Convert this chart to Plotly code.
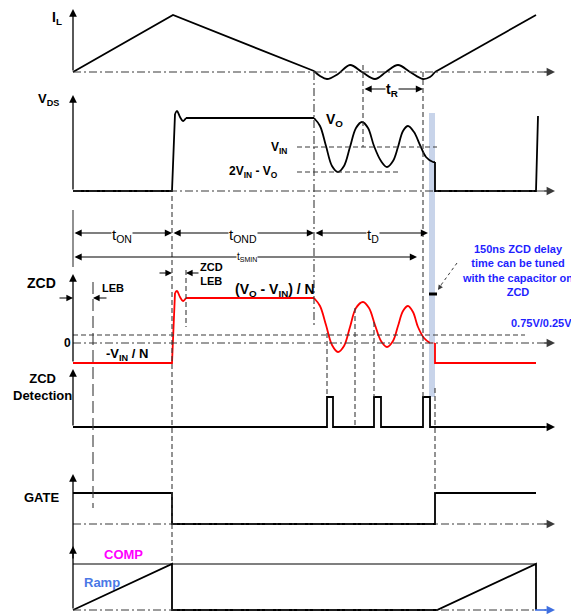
import plotly.graph_objects as go

# ---------------- waveform data (diagram coordinates) -------------
# Inductor current I_L
il_ramp_x = [73, 173, 314]
il_ramp_y = [72, 15, 71]
il_ring_x = [314, 320, 327, 338, 350, 362, 375, 386, 398, 410, 423, 430, 435]
il_ring_y = [71, 76, 79, 74, 65, 72, 79, 72, 65, 72, 79, 77, 72]
il_rise_x = [435, 536]
il_rise_y = [72, 15]

# Drain-source voltage V_DS
vds_on_x = [73, 172, 175]
vds_on_y = [191, 191, 114]
vds_ovs_x = [175, 177, 180, 183, 186]
vds_ovs_y = [114, 111, 117, 121, 118]
vds_flat_x = [186, 314]
vds_flat_y = [118, 118]
vds_ring_x = [314, 320, 326, 332, 338, 344, 350, 356, 362, 368, 374, 381, 387, 393, 398, 403, 408, 414, 420, 426, 433, 435]
vds_ring_y = [118, 126, 146, 166, 172, 166, 147, 128, 122, 128, 146, 161, 167, 161, 147, 131, 126, 132, 145, 157, 162, 162]
vds_next_x = [435, 435, 536, 538]
vds_next_y = [162, 191, 191, 116]

# ZCD pin voltage
zcd_on_x = [73, 172, 175]
zcd_on_y = [363, 363, 293]
zcd_ovs_x = [175, 177, 180, 183, 186]
zcd_ovs_y = [293, 291, 297, 301, 298]
zcd_flat_x = [186, 314]
zcd_flat_y = [298, 298]
zcd_ring_x = [314, 320, 326, 332, 338, 344, 350, 356, 363, 369, 375, 381, 387, 393, 398, 403, 408, 413, 418, 424, 430]
zcd_ring_y = [298, 306, 325, 345, 352, 346, 327, 308, 302, 308, 325, 341, 347, 341, 326, 311, 306, 312, 327, 338, 343]
zcd_next_x = [435, 435, 536]
zcd_next_y = [343, 363, 363]

# ZCD detection pulses
det_x = [73, 327, 327, 333, 333, 374, 374, 381, 381, 423, 423, 430, 430, 545]
det_y = [427, 427, 397, 397, 427, 427, 397, 397, 427, 427, 397, 397, 427, 427]

# Gate drive
gate_x = [73, 172, 172, 435, 435, 536]
gate_y = [493, 493, 524, 524, 493, 493]

# Ramp vs COMP
ramp_x = [73, 172, 172, 437, 536, 536]
ramp_y = [610, 564, 610, 610, 564, 610]
comp_x = [73, 536]
comp_y = [564, 564]

# timing marks
t_axis = 73
t_on = 172
t_leb = 93
t_zcdleb = 186
t_ond = 314
t_det = 423
t_gate2 = 435
t_smin = 417
t_d = 428

FONT = "Liberation Sans, Arial, sans-serif"
BLACK = "#000000"
GREY = "#3a3a3a"
RED = "#ff0000"
BLUE = "#1f1fff"

# the page body has an 8px margin: the figure covers page pixels 8..579 / 8..614
PAGE_OFF = 8

fig = go.Figure()


def line(x, y, color=BLACK, width=1.8, shape="linear", dash="solid"):
    fig.add_trace(go.Scatter(x=x, y=y, mode="lines", hoverinfo="skip",
                             line=dict(color=color, width=width, shape=shape, dash=dash)))


# blue delay band
fig.add_shape(type="rect", x0=429, x1=435, y0=113, y1=397, fillcolor="#c8d4ea",
              line=dict(width=0), layer="below")

DD = "8px,3px,2px,3px"
DS = "5px,3px"


def hline(y, x0, x1, dash=DD, color=GREY, width=1.1):
    fig.add_shape(type="line", x0=x0, x1=x1, y0=y, y1=y, line=dict(color=color, width=width, dash=dash))


def vline(x, y0, y1, dash=DS, color=GREY, width=1.1):
    fig.add_shape(type="line", x0=x, x1=x, y0=y0, y1=y1, line=dict(color=color, width=width, dash=dash))


def arrow(x, y, ax, ay, color=BLACK, width=1.4, head=2, size=1.2, side="end"):
    fig.add_annotation(x=x, y=y, ax=ax, ay=ay, xref="x", yref="y", axref="x", ayref="y",
                       text="", showarrow=True, arrowhead=head, arrowsize=size,
                       arrowwidth=width, arrowcolor=color, standoff=0, startstandoff=0,
                       arrowside=side, startarrowhead=head, startarrowsize=size)


def text(x, y, s, size=13, color=BLACK, bold=True, bg=None, xanchor="center"):
    if bold:
        s = "<b>" + s + "</b>"
    fig.add_annotation(x=x, y=y, xref="x", yref="y", text=s, showarrow=False,
                       font=dict(family=FONT, size=size, color=color),
                       bgcolor=bg, xanchor=xanchor, yanchor="middle", borderpad=0)


# horizontal reference lines
hline(72, t_axis, 546)
arrow(555, 72, 543, 72, color=GREY)
hline(191, t_axis, 546)
arrow(555, 191, 543, 191, color=GREY)
hline(147, 297, 437, dash=DS)
hline(172, 297, 400, dash=DS)
hline(335, t_axis, 525, dash=DS)
hline(343, t_axis, 546)
arrow(555, 343, 543, 343, color=GREY)
hline(524, t_axis, 546)
arrow(555, 524, 543, 524, color=GREY)
hline(610, t_axis, 535)
fig.add_shape(type="line", x0=535, x1=546, y0=610, y1=610, line=dict(color="#3f6fe0", width=1.6))
arrow(555, 610, 543, 610, color="#3f6fe0")

# vertical reference lines
vline(t_on, 196, 564)
vline(t_leb, 282, 508, dash="12px,5px")
vline(t_zcdleb, 270, 327)
vline(t_ond, 72, 327, dash=DD)
vline(363, 65, 147)
vline(t_det, 72, 397)
vline(t_gate2, 388, 493)
vline(327, 333, 397)
vline(355, 308, 427)
vline(374, 322, 397)

# waveforms
line(il_ramp_x, il_ramp_y)
line(il_ring_x, il_ring_y, shape="spline")
line(il_rise_x, il_rise_y)
line(vds_on_x, vds_on_y)
line(vds_ovs_x, vds_ovs_y, shape="spline")
line(vds_flat_x, vds_flat_y)
line(vds_ring_x, vds_ring_y, shape="spline")
line(vds_next_x, vds_next_y)
line(zcd_on_x, zcd_on_y, color=RED)
line(zcd_ovs_x, zcd_ovs_y, color=RED, shape="spline")
line(zcd_flat_x, zcd_flat_y, color=RED)
line(zcd_ring_x, zcd_ring_y, color=RED, shape="spline")
line([430, 435], [343, 343], color="#e89aa6")
line(zcd_next_x, zcd_next_y, color=RED)
line(det_x, det_y)
arrow(555, 427, 543, 427)
line(gate_x, gate_y)
line(comp_x, comp_y, width=1.1)
line(ramp_x, ramp_y)

# vertical axes
arrow(t_axis, 9, t_axis, 72, width=1.3)
arrow(t_axis, 95, t_axis, 191, width=1.3)
fig.add_shape(type="line", x0=t_axis, x1=t_axis, y0=210, y1=267, line=dict(color="#555555", width=1.3))
arrow(t_axis, 274, t_axis, 363, width=1.3)
arrow(t_axis, 369, t_axis, 427, width=1.3)
arrow(t_axis, 474, t_axis, 610, width=1.3)
arrow(t_axis, 546, t_axis, 560, width=1.3)

# timing dimensions
arrow(t_on, 233, t_axis, 233, width=1.2, side="end+start")
arrow(t_ond, 233, t_on, 233, width=1.2, side="end+start")
arrow(t_d, 233, t_ond, 233, width=1.2, side="end+start")
arrow(t_smin, 257, t_axis, 257, width=1.2, side="end+start")
arrow(423, 89, 363, 89, width=1.2, side="end+start")
text(122, 235, "t<sub>ON</sub>", size=15, bold=False, bg="white")
text(243, 235, "t<sub>OND</sub>", size=15, bold=False, bg="white")
text(373, 235, "t<sub>D</sub>", size=15, bold=False, bg="white")
text(247, 257, "t<sub>SMIN</sub>", size=10, bold=False, bg="white")
text(392, 90, "t<sub>R</sub>", size=14, bg="white")

# LEB markers
arrow(t_axis, 298, 58, 298, width=1.1)
arrow(t_leb, 298, 108, 298, width=1.1)
arrow(t_on, 273, 158, 273, width=1.1)
arrow(t_zcdleb, 273, 200, 273, width=1.1)
text(113, 288, "LEB", size=11)
text(211, 274, "ZCD<br>LEB", size=11)

# delay note
fig.add_shape(type="line", x0=457, x1=441, y0=263, y1=285,
              line=dict(color=GREY, width=1, dash="dot"))
arrow(438, 290, 442, 284, color=GREY, width=1, size=1)
fig.add_shape(type="line", x0=429, x1=437, y0=294, y1=294, line=dict(color=BLACK, width=3))
text(517, 270, "150ns ZCD delay<br>time can be tuned<br>with the capacitor on<br>ZCD", size=11, color=BLUE)
text(541, 323, "0.75V/0.25V", size=11, color=BLUE)

# labels
text(57, 18, "I<sub>L</sub>", size=14)
text(48, 99, "V<sub>DS</sub>", size=13)
text(334, 120, "V<sub>O</sub>", size=14)
text(279, 148, "V<sub>IN</sub>", size=12)
text(253, 172, "2V<sub>IN</sub> - V<sub>O</sub>", size=12)
text(41, 283, "ZCD", size=14)
text(67, 343, "0", size=12)
text(275, 290, "(V<sub>O</sub> - V<sub>IN</sub>) / N", size=14)
text(127, 354, "-V<sub>IN</sub> / N", size=13)
text(42, 387, "ZCD<br>Detection", size=13)
text(41, 497, "GATE", size=13)
text(123, 554, "COMP", size=13, color="#ff00ff")
text(102, 582, "Ramp", size=13, color="#4a78e6")

fig.update_layout(
    width=579 - PAGE_OFF, height=614 - PAGE_OFF, margin=dict(l=0, r=0, t=0, b=0),
    paper_bgcolor="white", plot_bgcolor="white", showlegend=False,
    xaxis=dict(range=[PAGE_OFF, 579], visible=False, fixedrange=True),
    yaxis=dict(range=[614, PAGE_OFF], visible=False, fixedrange=True),
)
fig.write_html("out.html", config={"displayModeBar": False})
